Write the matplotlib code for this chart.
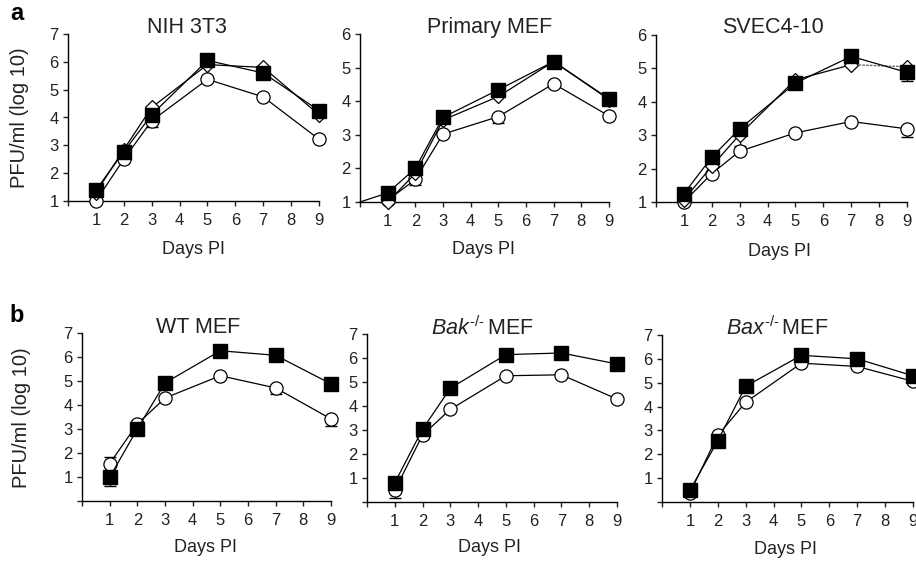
import matplotlib
matplotlib.use('Agg')
import matplotlib.pyplot as plt

plt.rcParams['font.family'] = ['Liberation Sans', 'DejaVu Sans']
plt.rcParams['mathtext.fontset'] = 'custom'
plt.rcParams['mathtext.rm'] = 'Liberation Sans'
plt.rcParams['mathtext.it'] = 'Liberation Sans:italic'

# ---------------- data ----------------
days = [1, 2, 3, 5, 7, 9]
day_ticks = [0, 1, 2, 3, 4, 5, 6, 7, 8, 9]
day_labels = ['', '1', '2', '3', '4', '5', '6', '7', '8', '9']

titles_a = ['NIH 3T3', 'Primary MEF', 'SVEC4-10']
titles_b = ['WT MEF', r'$\mathit{Bak}^{\text{-/-}}\,\mathrm{MEF}$',
            r'$\mathit{Bax}^{\text{-/-}}\,\mathrm{MEF}$']

# Panel a: NIH 3T3
nih_sq = [1.39, 2.77, 4.10, 6.05, 5.60, 4.25]
nih_dia = [1.30, 2.85, 4.36, 5.90, 5.80, 4.10]
nih_circ = [1.00, 2.50, 3.88, 5.37, 4.74, 3.22]
nih_sq_errlo = [0, 0, 0.45, 0, 0, 0]

# Panel a: Primary MEF (square series starts from day 0)
pmef_sq_days = [0, 1, 2, 3, 5, 7, 9]
pmef_sq = [1.00, 1.27, 2.00, 3.52, 4.34, 5.18, 4.07]
pmef_dia = [1.00, 1.85, 3.44, 4.14, 5.18, 4.05]
pmef_circ = [1.05, 1.67, 3.02, 3.54, 4.52, 3.56]
pmef_circ_errlo = [0, 0.17, 0, 0.18, 0, 0]

# Panel a: SVEC4-10
svec_sq = [1.25, 2.34, 3.19, 4.56, 5.36, 4.88]
svec_dia = [1.07, 2.07, 3.02, 4.66, 5.11, 5.05]
svec_circ = [1.00, 1.85, 2.52, 3.07, 3.41, 3.19]
svec_dia_errlo = [0, 0, 0.35, 0, 0, 0]
svec_sq_errlo = [0, 0, 0, 0, 0, 0.27]
svec_circ_errlo = [0, 0, 0, 0, 0, 0.25]

# Panel b: WT MEF
wt_sq = [0.99, 3.00, 4.92, 6.26, 6.07, 4.88]
wt_circ = [1.56, 3.21, 4.29, 5.22, 4.71, 3.42]
wt_sq_errlo = [0.38, 0.25, 0, 0, 0, 0]
wt_circ_errhi = [0.26, 0, 0, 0, 0, 0]
wt_circ_errlo = [0, 0, 0, 0, 0.25, 0.30]

# Panel b: Bak-/- MEF
bak_sq = [0.80, 3.03, 4.74, 6.14, 6.21, 5.75]
bak_circ = [0.49, 2.79, 3.86, 5.26, 5.30, 4.29]
bak_circ_errlo = [0.31, 0, 0, 0, 0, 0]

# Panel b: Bax-/- MEF
bax_sq = [0.49, 2.57, 4.85, 6.15, 6.00, 5.29]
bax_circ = [0.38, 2.79, 4.18, 5.82, 5.68, 5.06]

# ---------------- layout ----------------
W, H = 916, 562
fig = plt.figure(figsize=(W / 100, H / 100), dpi=100)
TXT = '#222222'


def add_ax(l, r, top, bot):
    return fig.add_axes([l / W, 1 - bot / H, (r - l) / W, (bot - top) / H])


def style(ax, ylim, yticks, ylabels):
    ax.set_xlim(0, 9)
    ax.set_ylim(*ylim)
    ax.set_xticks(day_ticks)
    ax.set_xticklabels(day_labels)
    ax.set_yticks(yticks)
    ax.set_yticklabels(ylabels)
    for s in ['top', 'right']:
        ax.spines[s].set_visible(False)
    for s in ['left', 'bottom']:
        ax.spines[s].set_linewidth(1.0)
    ax.tick_params(axis='both', direction='out', length=3.6, width=1.0,
                   labelsize=12, colors=TXT)
    ax.tick_params(axis='x', pad=5)
    ax.tick_params(axis='y', pad=3)
    ax.set_facecolor('none')


LW = 0.9
MS_SQ = 9.5
MS_C = 9.5
MS_D = 7.5
EK = dict(ecolor='black', elinewidth=0.9, capsize=4.5, capthick=1.0, ls='none')


def circ(ax, x, y, err=None):
    ax.plot(x, y, '-', color='black', lw=LW, marker='o', ms=MS_C,
            mfc='white', mec='black', mew=0.9, clip_on=False, zorder=3)
    if err is not None:
        ax.errorbar(x, y, yerr=err, zorder=2, clip_on=False, **EK)


def dia(ax, x, y, err=None):
    ax.plot(x, y, '-', color='black', lw=LW, marker='D', ms=MS_D,
            mfc='white', mec='black', mew=0.9, clip_on=False, zorder=4)
    if err is not None:
        ax.errorbar(x, y, yerr=err, zorder=2, clip_on=False, **EK)


def sq(ax, x, y, err=None, markevery=None):
    ax.plot(x, y, '-', color='black', lw=LW, marker='s', ms=MS_SQ,
            mfc='black', mec='black', clip_on=False, zorder=5,
            markevery=markevery)
    if err is not None:
        ax.errorbar(x, y, yerr=err, zorder=2, clip_on=False, **EK)


zeros = [0] * len(days)

# a1
ax = add_ax(68, 319, 34, 201)
style(ax, (1, 7), range(1, 8), [str(i) for i in range(1, 8)])
circ(ax, days, nih_circ)
dia(ax, days, nih_dia)
sq(ax, days, nih_sq, err=[nih_sq_errlo, zeros])

# a2
ax = add_ax(360, 609, 34, 202)
style(ax, (1, 6), range(1, 7), [str(i) for i in range(1, 7)])
circ(ax, days, pmef_circ, err=[pmef_circ_errlo, zeros])
dia(ax, days, pmef_dia)
sq(ax, pmef_sq_days, pmef_sq, markevery=slice(1, None))

# a3
ax = add_ax(656, 907, 35, 202)
style(ax, (1, 6), range(1, 7), [str(i) for i in range(1, 7)])
circ(ax, days, svec_circ, err=[svec_circ_errlo, zeros])
ax.plot(days[:-1], svec_dia[:-1], '-', color='black', lw=LW, zorder=4,
        clip_on=False)
ax.plot(days[-2:], svec_dia[-2:], '--', color='#555555', lw=LW, zorder=4,
        dashes=(2, 1), clip_on=False)
ax.plot(days, svec_dia, 'none', marker='D', ms=MS_D, mfc='white', mec='black',
        mew=0.9, clip_on=False, zorder=4)
ax.errorbar(days, svec_dia, yerr=[svec_dia_errlo, zeros], zorder=2,
            clip_on=False, **EK)
sq(ax, days, svec_sq, err=[svec_sq_errlo, zeros])

# b1
ax = add_ax(82, 331, 333, 501)
style(ax, (0, 7), range(0, 8), [''] + [str(i) for i in range(1, 8)])
circ(ax, days, wt_circ, err=[wt_circ_errlo, wt_circ_errhi])
sq(ax, days, wt_sq, err=[wt_sq_errlo, zeros])

# b2
ax = add_ax(367, 617, 334, 502)
style(ax, (0, 7), range(0, 8), [''] + [str(i) for i in range(1, 8)])
circ(ax, days, bak_circ, err=[bak_circ_errlo, zeros])
sq(ax, days, bak_sq)

# b3
ax = add_ax(662, 913, 335, 502)
style(ax, (0, 7), range(0, 8), [''] + [str(i) for i in range(1, 8)])
circ(ax, days, bax_circ)
sq(ax, days, bax_sq)

# ---------------- text ----------------
def ftext(x, y, s, **kw):
    fig.text(x / W, 1 - y / H, s, **kw)


title_pos_a = [(187, 33), (490, 33), (773, 33)]
title_pos_b = [(198, 333), (482, 335), (777, 335)]
for (x, y), t in zip(title_pos_a, titles_a):
    ftext(x, y, t, ha='center', va='baseline', fontsize=15.5, color=TXT)
for (x, y), t in zip(title_pos_b, titles_b):
    ftext(x, y, t, ha='center', va='baseline', fontsize=15.5, color=TXT)

for x, y in [(193, 249), (483, 250), (780, 252), (205, 548), (490, 548), (785, 549)]:
    ftext(x, y, 'Days PI', ha='center', va='center', fontsize=13, color=TXT)

ftext(20, 118, 'PFU/ml (log 10)', ha='center', va='center', rotation=90,
      fontsize=14.5, color=TXT)
ftext(22, 418, 'PFU/ml (log 10)', ha='center', va='center', rotation=90,
      fontsize=14.5, color=TXT)

ftext(17, 14, 'a', ha='center', va='center', fontsize=17, fontweight='bold')
ftext(17, 316, 'b', ha='center', va='center', fontsize=17, fontweight='bold')

fig.savefig('out.png', dpi=100)
